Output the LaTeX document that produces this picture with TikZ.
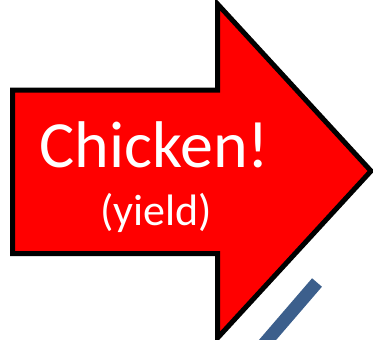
\documentclass[tikz,border=0pt]{standalone}
\usepackage{fontspec}
\setmainfont{Carlito}
\definecolor{arrowred}{RGB}{255,0,0}
\definecolor{lineblue}{RGB}{60,95,140}
\begin{document}
\begin{tikzpicture}[x=1pt,y=-1pt,
  bigarrow/.style={fill=arrowred,draw=black,line width=5pt,line join=miter,miter limit=10},
  whitetext/.style={text=white,inner sep=0pt,anchor=base},
  blueline/.style={draw=lineblue,line width=13pt,line cap=butt}]
\useasboundingbox (0,0) rectangle (373,340);
\begin{scope}
\clip (0,0) rectangle (373,340);
\draw[bigarrow] (12.5,90) -- (217.5,90) -- (217.5,4) -- (371,171) -- (217.5,338) -- (217.5,253.5) -- (12.5,253.5) -- cycle;
\coordinate (b1) at (317,282.5);
\coordinate (b2) at (255,354.5);
\draw[blueline] (b1) -- (b2);
\end{scope}
\node[whitetext,font=\fontsize{66}{70}\selectfont] (title) at (154.5,167) {Chicken!};
\node[whitetext,font=\fontsize{44}{48}\selectfont] (sub) at (156,225) {(yield)};
\end{tikzpicture}
\end{document}
